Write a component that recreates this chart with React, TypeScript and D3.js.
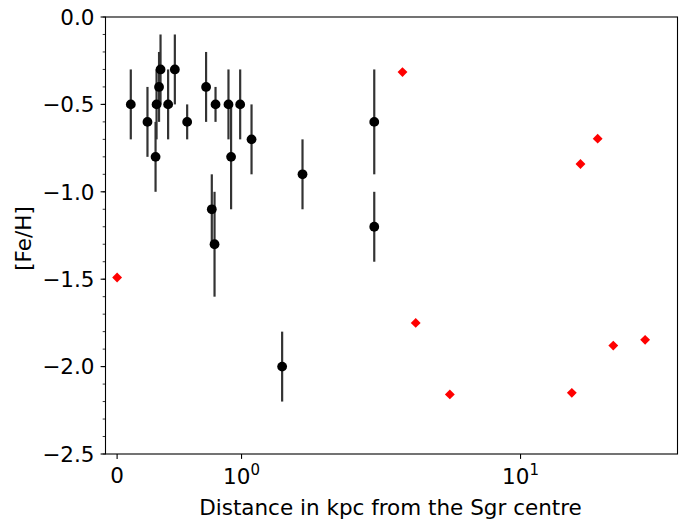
import React from "react";
import * as d3 from "d3";

// Black points with error bars
const blackDist = [0.11, 0.244, 0.309, 0.317, 0.337, 0.349, 0.41, 0.464, 0.563, 0.715, 0.791, 0.895, 0.916, 0.989, 1.086, 2.99, 2.99, 1.654, 0.761, 0.783, 1.398];
const blackFeH = [-0.5, -0.6, -0.8, -0.5, -0.4, -0.3, -0.5, -0.3, -0.6, -0.4, -0.5, -0.5, -0.8, -0.5, -0.7, -0.6, -1.2, -0.9, -1.1, -1.3, -2.0];
const blackErr = [0.2, 0.2, 0.2, 0.2, 0.2, 0.2, 0.2, 0.2, 0.1, 0.2, 0.1, 0.2, 0.3, 0.2, 0.2, 0.3, 0.2, 0.2, 0.2, 0.3, 0.2];

// Red diamonds
const redDist = [0, 3.775, 18.9, 16.4, 4.21, 5.58, 15.27, 21.5, 27.96];
const redFeH = [-1.49, -0.315, -0.696, -0.841, -1.75, -2.159, -2.15, -1.88, -1.847];

const yTicks = [0.0, -0.5, -1.0, -1.5, -2.0, -2.5];
const yMinorTicks = d3.range(0, 26).map((i) => -i * 0.1);
const xTicks = [0, 1, 10];

const W = 692;
const H = 521;
const left = 105.5;
const right = 677.5;
const top = 17;
const bottom = 454;

// matplotlib-like symlog transform (linthresh = 1)
const LINA = 0.446;
const symT = (v: number) => (Math.abs(v) <= 1 ? v * LINA : Math.sign(v) * (LINA + Math.log10(Math.abs(v))));

const xLin = d3.scaleLinear().domain([-0.0416, 2.0086]).range([left, right]);
const x = (v: number) => xLin(symT(v));
const y = d3.scaleLinear().domain([-2.5, 0]).range([bottom, top]);

const fmt = (v: number) => (v < 0 ? "\u2212" + Math.abs(v).toFixed(1) : v.toFixed(1));

export default function App() {
  const font = "DejaVu Sans, sans-serif";
  const fs = 21.5;
  const diamond = d3.symbol().type(d3.symbolDiamond2).size(62)();
  return (
    <div style={{ position: "fixed", left: 0, top: 0 }}>
      <svg width={W} height={H} style={{ display: "block", background: "#fff" }}>
        {/* error bars */}
        {blackDist.map((d, i) => (
          <line
            key={"e" + i}
            x1={x(d)}
            x2={x(d)}
            y1={y(blackFeH[i] + blackErr[i])}
            y2={y(blackFeH[i] - blackErr[i])}
            stroke="#333"
            strokeWidth={2.2}
          />
        ))}
        {blackDist.map((d, i) => (
          <circle key={"p" + i} cx={x(d)} cy={y(blackFeH[i])} r={4.9} fill="#000" />
        ))}
        {redDist.map((d, i) => (
          <path key={"r" + i} d={diamond as string} transform={`translate(${x(d)},${y(redFeH[i])})`} fill="#ff0000" />
        ))}
        {/* frame */}
        <rect x={left} y={top} width={right - left} height={bottom - top} fill="none" stroke="#000" strokeWidth={1.1} />
        {/* y ticks */}
        {yMinorTicks.map((t, i) => (
          <line key={"ym" + i} x1={left - 2.8} x2={left} y1={y(t)} y2={y(t)} stroke="#000" strokeWidth={0.8} />
        ))}
        {yTicks.map((t, i) => (
          <g key={"y" + i}>
            <line x1={left - 4.9} x2={left} y1={y(t)} y2={y(t)} stroke="#000" strokeWidth={1.1} />
            <text x={94.5} y={y(t)} dy="0.36em" textAnchor="end" fontFamily={font} fontSize={fs} fill="#000">
              {fmt(t)}
            </text>
          </g>
        ))}
        {/* x ticks */}
        {xTicks.map((t, i) => (
          <g key={"x" + i}>
            <line x1={x(t)} x2={x(t)} y1={bottom} y2={bottom + 4.9} stroke="#000" strokeWidth={1.1} />
            {t === 0 ? (
              <text x={x(t)} y={482.5} textAnchor="middle" fontFamily={font} fontSize={fs} fill="#000">
                0
              </text>
            ) : (
              <text x={x(t)} y={483.5} textAnchor="middle" fontFamily={font} fontSize={fs} fill="#000">
                10
                <tspan dy={-8.5} fontSize={15}>
                  {String(Math.round(Math.log10(t)))}
                </tspan>
              </text>
            )}
          </g>
        ))}
        <text x={390.5} y={514.5} textAnchor="middle" fontFamily={font} fontSize={fs} fill="#000">
          Distance in kpc from the Sgr centre
        </text>
        <text
          transform={`translate(31,238.5) rotate(-90)`}
          textAnchor="middle"
          fontFamily={font}
          fontSize={fs}
          fill="#000"
        >
          [Fe/H]
        </text>
      </svg>
    </div>
  );
}
